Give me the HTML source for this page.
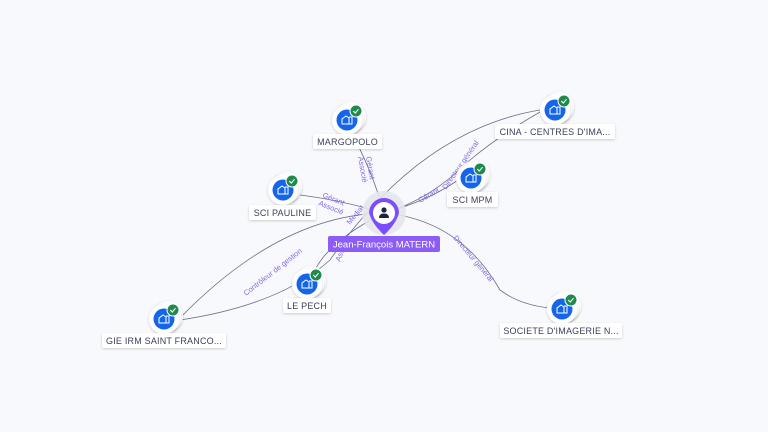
<!DOCTYPE html>
<html><head><meta charset="utf-8"><style>
html,body{margin:0;padding:0;background:#f8f9fc;}
svg{display:block;font-family:"Liberation Sans",sans-serif;}
.lbl{font-size:9px;fill:#3a3f5c;letter-spacing:0.2px}
.el{font-size:7.5px;fill:#8468e8}
</style></head><body>
<svg width="768" height="432" viewBox="0 0 768 432">
<defs>
<filter id="sh" x="-50%" y="-50%" width="200%" height="200%"><feDropShadow dx="0" dy="1" stdDeviation="1.2" flood-color="#000" flood-opacity="0.18"/></filter>
<g id="node">
<circle cx="4" cy="-3" r="15" fill="#fff" filter="url(#sh)"/>
<circle cx="2" cy="-1.5" r="15" fill="#fff" filter="url(#sh)"/>
<circle cx="0" cy="0" r="15" fill="#fff" filter="url(#sh)"/>
<circle cx="0" cy="0" r="10.5" fill="#1565e8"/>
<path d="M-5 4 V-1 L-1 -4 L2 -2 V4 Z M2 -3 H5 V4 H2" fill="none" stroke="#fff" stroke-width="1"/>
<circle cx="9" cy="-9" r="6" fill="#1e8a4c" stroke="#fff" stroke-width="1"/>
<path d="M6.3 -9 L8.3 -7 L11.5 -10.8" fill="none" stroke="#fff" stroke-width="1.1"/>
</g>
</defs>
<g fill="none" stroke="#6b6f8a" stroke-width="0.8">
<path d="M384 213 Q372 170 350 130"/>
<path d="M384 213 Q340 200 300 195"/>
<path d="M384 213 Q430 200 458 180"/>
<path d="M384 213 Q430 200 470 160 Q500 135 540 112"/>
<path d="M384 213 Q460 220 500 290 Q520 305 550 308"/>
<path d="M384 213 Q330 240 315 270"/>
<path d="M384 213 Q280 215 180 318"/>
<path d="M180 320 Q280 305 330 260 Q420 130 540 110"/>
</g>
<g class="el">
<text transform="translate(366,157) rotate(80)">Gérant</text>
<text transform="translate(358,157) rotate(80)">Associé</text>
<text transform="translate(322,197) rotate(22)">Gérant</text>
<text transform="translate(318,205) rotate(22)">Associé</text>
<text transform="translate(420,203) rotate(-30)">Gérant</text>
<text transform="translate(446,190) rotate(-55)">Directeur général</text>
<text transform="translate(453,238) rotate(50)">Directeur général</text>
<text transform="translate(246,296) rotate(-38)">Contrôleur de gestion</text>
<text transform="translate(350,225) rotate(-50)">Mediat</text>
<text transform="translate(340,262) rotate(-70)">Associé</text>
</g>
<circle cx="384" cy="213" r="22" fill="#e4e5eb" opacity="0.9"/>
<path d="M369 213 A15 15 0 1 1 399 213 Q396 224 384 235 Q372 224 369 213 Z" fill="#7c4dff"/>
<circle cx="384" cy="213" r="11" fill="#fff"/>
<circle cx="384" cy="210" r="2.6" fill="#1c2340"/>
<path d="M379 218 Q379 213.5 384 213.5 Q389 213.5 389 218 Z" fill="#1c2340"/>
<rect x="328" y="236" width="112" height="16" rx="2" fill="#8b5cf6"/>
<text x="384" y="247.5" text-anchor="middle" font-size="9.5" fill="#fff">Jean-François MATERN</text>

<use href="#node" x="347" y="120"/>
<use href="#node" x="283" y="190"/>
<use href="#node" x="471" y="178"/>
<use href="#node" x="555" y="110"/>
<use href="#node" x="307" y="284"/>
<use href="#node" x="164" y="319"/>
<use href="#node" x="562" y="309"/>

<g filter="url(#sh)" fill="#fff">
<rect x="313" y="134" width="69" height="15" rx="2"/>
<rect x="249" y="205" width="67" height="15" rx="2"/>
<rect x="447" y="192" width="51" height="15" rx="2"/>
<rect x="495" y="124" width="120" height="15" rx="2"/>
<rect x="283" y="298" width="48" height="15" rx="2"/>
<rect x="102" y="333" width="124" height="15" rx="2"/>
<rect x="500" y="323" width="122" height="15" rx="2"/>
</g>
<g class="lbl" text-anchor="middle">
<text x="347.5" y="145">MARGOPOLO</text>
<text x="282.5" y="216">SCI PAULINE</text>
<text x="472.5" y="203">SCI MPM</text>
<text x="555" y="135">CINA - CENTRES D'IMA...</text>
<text x="307" y="309">LE PECH</text>
<text x="164" y="344">GIE IRM SAINT FRANCO...</text>
<text x="561" y="334">SOCIETE D'IMAGERIE N...</text>
</g>
</svg>
</body></html>
